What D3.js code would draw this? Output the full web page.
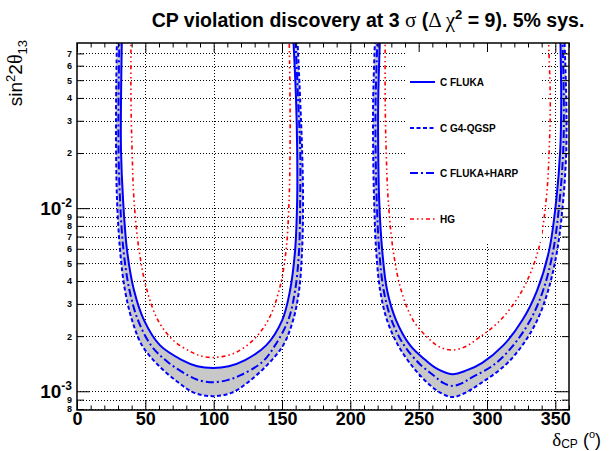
<!DOCTYPE html>
<html>
<head>
<meta charset="utf-8">
<script src="https://cdn.jsdelivr.net/npm/d3@7"></script>
<style>
  body { margin: 0; background: #fff; }
  svg { font-family: "Liberation Sans", Arial, sans-serif; }
</style>
</head>
<body>
<div id="chart"></div>
<script>
var width = 614, height = 451;

// axis ticks
var xMajor = [0, 50, 100, 150, 200, 250, 300, 350];
var xMinor = d3.range(0, 361, 10).filter(function(d) { return d % 50 != 0; });
var yMajor = [1e-3, 1e-2];
var yMinor = [8e-4, 9e-4, 2e-3, 3e-3, 4e-3, 5e-3, 6e-3, 7e-3, 8e-3, 9e-3,
              2e-2, 3e-2, 4e-2, 5e-2, 6e-2, 7e-2];

// [delta_CP, sin^2 2theta13] traced along each lobe (left branch top -> minimum -> right branch top)
var flukaLeft = [[32.9,0.09],[32.2,0.0389],[32.2,0.0208],[33.7,0.0111],[36.6,0.0059],[41.7,0.00356],[49.1,0.00244],[60.8,0.00178],[76.9,0.00148],[88,0.00137],[99.6,0.00134],[111,0.00137],[123,0.00148],[138.4,0.00178],[150.1,0.00244],[155.9,0.00356],[159.6,0.0059],[161.1,0.0111],[161.1,0.0208],[160.3,0.0389],[158.1,0.09]];
var flukaRight = [[221.8,0.09],[220.4,0.0389],[220.4,0.0208],[221.1,0.0111],[223.3,0.0059],[226.9,0.00356],[233.5,0.00244],[243.8,0.00178],[255,0.00148],[264,0.00132],[274.5,0.00124],[285,0.0013],[296.5,0.00143],[311.9,0.00178],[325.8,0.00244],[336.7,0.00356],[345.5,0.0059],[350.7,0.0111],[353.6,0.0208],[354.3,0.0389],[353.6,0.09]];

var g4Left = [[29.3,0.09],[28.6,0.0389],[28.6,0.0208],[29.3,0.0111],[31.5,0.0059],[35.1,0.00356],[40.3,0.00244],[47.6,0.00178],[59.3,0.00139],[73.9,0.00112],[86,0.00098],[99.6,0.00094],[113,0.00098],[125.2,0.00112],[139.1,0.00139],[150.8,0.00178],[158.1,0.00244],[162.5,0.00356],[164.7,0.0059],[165.4,0.0111],[164.7,0.0208],[163.3,0.0389],[161.1,0.09]];
var g4Right = [[218.2,0.09],[216.7,0.0389],[216.7,0.0208],[217.4,0.0111],[218.9,0.0059],[221.8,0.00356],[226.9,0.00244],[235,0.00178],[246,0.00135],[256,0.00112],[265,0.00099],[274.5,0.00093],[284,0.00098],[295,0.0011],[313.4,0.00139],[325.8,0.00178],[336.7,0.00244],[344.8,0.00356],[351.4,0.0059],[355.8,0.0111],[358,0.0208],[358,0.0389],[356.5,0.09]];

var harpLeft = [[31.1,0.09],[30.4,0.0389],[30.4,0.0208],[31.5,0.0111],[34,0.0059],[38.4,0.00356],[44.7,0.00244],[54.2,0.00178],[66.6,0.00144],[81.3,0.00122],[89,0.00115],[99.6,0.00112],[110,0.00115],[119.3,0.00122],[135.4,0.00144],[144.9,0.00178],[154.5,0.00244],[159.6,0.00356],[162.5,0.0059],[163.3,0.0111],[163.3,0.0208],[161.8,0.0389],[159.6,0.09]];
var harpRight = [[220,0.09],[218.5,0.0389],[218.5,0.0208],[219.3,0.0111],[221.1,0.0059],[224.4,0.00356],[230.2,0.00244],[239.4,0.00178],[251.1,0.0014],[261,0.00122],[268,0.00111],[274.5,0.00107],[281,0.0011],[289,0.00119],[305.3,0.0014],[319.2,0.00178],[331.6,0.00244],[341.1,0.00356],[348.5,0.0059],[353.2,0.0111],[355.8,0.0208],[356.2,0.0389],[355.1,0.09]];

var hgLeft = [[39.5,0.09],[39.5,0.0389],[40.3,0.0208],[41.7,0.0111],[45.4,0.0059],[51.2,0.00356],[59.3,0.00244],[70.3,0.0019],[84.2,0.00163],[92,0.00155],[99.6,0.00153],[107,0.00155],[116.4,0.00163],[128.8,0.0019],[139.8,0.00244],[147.9,0.00356],[153,0.0059],[155.2,0.0111],[155.9,0.0208],[155.9,0.0389],[155.2,0.09]];
var hgRight = [[225.5,0.09],[225.5,0.0389],[226.2,0.0208],[227.7,0.0111],[231.3,0.0059],[237.2,0.00356],[246,0.00244],[257,0.00195],[265,0.00175],[274.5,0.00168],[284,0.00175],[293.6,0.00195],[309.7,0.00244],[325.8,0.00356],[337.5,0.0059],[343.3,0.0111],[345.5,0.0208],[346.3,0.0389],[344.8,0.09]];

var series = [
  {name: "C FLUKA",      lobes: [flukaLeft, flukaRight], color: "#0000ff", width: 2,   dash: null},
  {name: "C G4-QGSP",    lobes: [g4Left, g4Right],       color: "#0000ff", width: 2,   dash: "4,2.5"},
  {name: "C FLUKA+HARP", lobes: [harpLeft, harpRight],   color: "#0000ff", width: 2,   dash: "8,3,2,3"},
  {name: "HG",           lobes: [hgLeft, hgRight],       color: "#ff0000", width: 1.6, dash: "4,3,1.5,3,1.5,3"}
];

var margin = {left: 77, right: 45, top: 43, bottom: 41};
var x = d3.scaleLinear().domain([0, 360]).range([margin.left, width - margin.right]);
var y = d3.scaleLog().domain([7.9e-4, 0.0798]).range([height - margin.bottom, margin.top]);

var svg = d3.select("#chart").append("svg")
  .attr("width", width)
  .attr("height", height);

svg.append("rect").attr("width", width).attr("height", height).attr("fill", "#fff");

svg.append("defs").append("clipPath").attr("id", "clip")
  .append("rect")
  .attr("x", x(0)).attr("y", y.range()[1])
  .attr("width", x(360) - x(0)).attr("height", y.range()[0] - y.range()[1]);

// grid
var grid = svg.append("g").attr("class", "grid")
  .attr("stroke", "#000").attr("stroke-width", 1).attr("stroke-dasharray", "1,2");
grid.selectAll("line.gx").data(xMajor.slice(1))
  .enter().append("line")
  .attr("x1", function(d) { return Math.round(x(d)) + 0.5; })
  .attr("x2", function(d) { return Math.round(x(d)) + 0.5; })
  .attr("y1", y.range()[1]).attr("y2", y.range()[0]);
grid.selectAll("line.gy").data(yMajor.concat(yMinor))
  .enter().append("line")
  .attr("y1", function(d) { return Math.round(y(d)) + 0.5; })
  .attr("y2", function(d) { return Math.round(y(d)) + 0.5; })
  .attr("x1", x(0)).attr("x2", x(360));

var plot = svg.append("g").attr("clip-path", "url(#clip)");

var line = d3.line()
  .curve(d3.curveCatmullRom)
  .x(function(d) { return x(d[0]); })
  .y(function(d) { return y(d[1]); });

// grey band between FLUKA and G4-QGSP
[[flukaLeft, g4Left], [flukaRight, g4Right]].forEach(function(p) {
  plot.append("path")
    .attr("d", line(p[0]) + "L" + line(p[1].slice().reverse()).slice(1) + "Z")
    .attr("fill", "#c8c8c8")
    .attr("stroke", "none");
});

series.forEach(function(s) {
  s.lobes.forEach(function(lobe) {
    plot.append("path")
      .attr("d", line(lobe))
      .attr("fill", "none")
      .attr("stroke", s.color)
      .attr("stroke-width", s.width)
      .attr("stroke-dasharray", s.dash);
  });
});

// legend
var legend = svg.append("g");
legend.append("rect")
  .attr("x", 405).attr("y", 48).attr("width", 137).attr("height", 194)
  .attr("fill", "#fff");
var legendY = [82, 128, 173, 219];
series.forEach(function(s, i) {
  var row = legend.append("g").attr("transform", "translate(410," + legendY[i] + ")");
  row.append("line")
    .attr("x1", 0).attr("x2", 25).attr("y1", 0).attr("y2", 0)
    .attr("stroke", s.color)
    .attr("stroke-width", s.width)
    .attr("stroke-dasharray", s.dash);
  row.append("text")
    .attr("x", 30).attr("y", 3.5)
    .attr("font-size", 10).attr("font-weight", "bold")
    .text(s.name);
});

// axes (ROOT style, ticks inside on all four sides)
function styleAxis(g) {
  g.select(".domain").remove();
  g.selectAll(".tick line").attr("stroke", "#000").attr("stroke-width", 1);
}
var bottomY = y.range()[0], topY = y.range()[1];

svg.append("g").attr("transform", "translate(0," + bottomY + ")")
  .call(d3.axisBottom(x).tickValues(xMajor).tickSize(-9).tickPadding(2).tickFormat(d3.format("d")))
  .call(styleAxis)
  .selectAll("text")
  .attr("font-family", "Liberation Sans, Arial, sans-serif")
  .attr("font-size", 18).attr("font-weight", "bold").attr("fill", "#000");
svg.append("g").attr("transform", "translate(0," + bottomY + ")")
  .call(d3.axisBottom(x).tickValues(xMinor).tickSize(-4.5).tickFormat(""))
  .call(styleAxis);
svg.append("g").attr("transform", "translate(0," + topY + ")")
  .call(d3.axisTop(x).tickValues(xMajor).tickSize(-9).tickFormat(""))
  .call(styleAxis);
svg.append("g").attr("transform", "translate(0," + topY + ")")
  .call(d3.axisTop(x).tickValues(xMinor).tickSize(-4.5).tickFormat(""))
  .call(styleAxis);

var leftX = x(0), rightX = x(360);
svg.append("g").attr("transform", "translate(" + leftX + ",0)")
  .call(d3.axisLeft(y).tickValues(yMajor).tickSize(-13).tickFormat(""))
  .call(styleAxis);
svg.append("g").attr("transform", "translate(" + leftX + ",0)")
  .call(d3.axisLeft(y).tickValues(yMinor).tickSize(-7).tickPadding(5)
    .tickFormat(function(d) { return Math.round(d / Math.pow(10, Math.floor(Math.log10(d) + 1e-9))); }))
  .call(styleAxis)
  .selectAll("text")
  .attr("font-family", "Liberation Sans, Arial, sans-serif")
  .attr("font-size", 9).attr("font-weight", "bold").attr("fill", "#000");
svg.append("g").attr("transform", "translate(" + rightX + ",0)")
  .call(d3.axisRight(y).tickValues(yMajor).tickSize(-13).tickFormat(""))
  .call(styleAxis);
svg.append("g").attr("transform", "translate(" + rightX + ",0)")
  .call(d3.axisRight(y).tickValues(yMinor).tickSize(-7).tickFormat(""))
  .call(styleAxis);

// decade labels 10^-2, 10^-3
yMajor.forEach(function(d) {
  var t = svg.append("text")
    .attr("x", leftX - 5).attr("y", y(d) + 7)
    .attr("text-anchor", "end")
    .attr("font-size", 19).attr("font-weight", "bold");
  t.append("tspan").text("10");
  t.append("tspan").attr("dy", -8).attr("font-size", 12).text(Math.round(Math.log10(d)));
});

// frame
svg.append("rect")
  .attr("x", leftX).attr("y", topY)
  .attr("width", rightX - leftX).attr("height", bottomY - topY)
  .attr("fill", "none").attr("stroke", "#000").attr("stroke-width", 1.5);

// title
var title = svg.append("text")
  .attr("x", 368).attr("y", 27)
  .attr("text-anchor", "middle")
  .attr("font-size", 19.5).attr("font-weight", "bold");
title.append("tspan").text("CP violation discovery at 3 ");
title.append("tspan").attr("font-family", "Liberation Serif, serif").attr("font-weight", "normal").attr("font-size", 21).text("σ");
title.append("tspan").text(" (");
title.append("tspan").attr("font-family", "Liberation Serif, serif").attr("font-weight", "normal").attr("font-size", 21).text("Δ χ");
title.append("tspan").attr("dy", -8).attr("font-size", 13).text("2");
title.append("tspan").attr("dy", 8).text(" = 9). 5% sys.");

// y title
var yt = svg.append("text")
  .attr("transform", "translate(22,40) rotate(-90)")
  .attr("text-anchor", "end")
  .attr("font-size", 19);
yt.append("tspan").text("sin");
yt.append("tspan").attr("dy", -7).attr("font-size", 13).text("2");
yt.append("tspan").attr("dy", 7).text("2");
yt.append("tspan").attr("font-family", "Liberation Serif, serif").attr("font-size", 20).text("θ");
yt.append("tspan").attr("dy", 5).attr("font-size", 13).text("13");

// x title
var xt = svg.append("text")
  .attr("x", 601).attr("y", 446)
  .attr("text-anchor", "end")
  .attr("font-size", 18);
xt.append("tspan").attr("font-family", "Liberation Serif, serif").attr("font-size", 19).text("δ");
xt.append("tspan").attr("dy", 2).attr("font-size", 12).text("CP");
xt.append("tspan").attr("dy", -2).text(" (");
xt.append("tspan").attr("dy", -8).attr("font-size", 11).text("o");
xt.append("tspan").attr("dy", 8).text(")");
</script>
</body>
</html>
